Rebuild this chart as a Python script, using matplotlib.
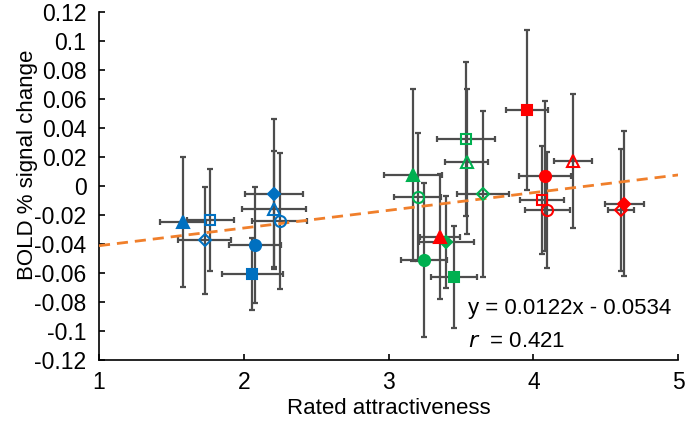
import numpy as np
from matplotlib import pyplot as plt

plt.rcParams['font.family'] = ['Liberation Sans', 'DejaVu Sans']

# points per colour group: x, y, x error, y error, marker, filled
blue_x = [1.58, 1.77, 1.73, 2.08, 2.06, 2.21, 2.21, 2.25]
blue_y = [-0.0248, -0.0234, -0.0376, -0.0407, -0.0607, -0.0055, -0.016, -0.0240]
blue_xerr = [0.16, 0.16, 0.185, 0.18, 0.21, 0.20, 0.22, 0.19]
blue_yerr = [0.045, 0.035, 0.037, 0.040, 0.025, 0.052, 0.040, 0.047]
blue_marker = ['^', 's', 'D', 'o', 's', 'D', '^', 'o']
blue_filled = [True, False, False, True, True, True, False, False]

green_x = [3.17, 3.20, 3.245, 3.40, 3.45, 3.535, 3.54, 3.65]
green_y = [0.0076, -0.0076, -0.051, -0.0386, -0.0628, 0.0324, 0.0166, -0.0055]
green_xerr = [0.20, 0.165, 0.16, 0.19, 0.16, 0.20, 0.15, 0.18]
green_yerr = [0.059, 0.044, 0.053, 0.032, 0.035, 0.053, 0.050, 0.057]
green_marker = ['^', 'o', 'o', 'D', 's', 's', '^', 'D']
green_filled = [True, False, True, True, True, False, False, False]

red_x = [3.355, 3.957, 4.08, 4.06, 4.095, 4.275, 4.627, 4.606]
red_y = [-0.035, 0.0524, 0.0069, -0.0097, -0.0166, 0.0172, -0.0124, -0.0166]
red_xerr = [0.14, 0.145, 0.18, 0.155, 0.155, 0.13, 0.135, 0.09]
red_yerr = [0.043, 0.055, 0.052, 0.037, 0.040, 0.046, 0.050, 0.042]
red_marker = ['^', 's', 'o', 's', 'o', '^', 'D', 'D']
red_filled = [True, True, True, False, False, False, True, False]

slope = 0.0122
intercept = -0.0534
r_value = 0.421

groups = [
    (blue_x, blue_y, blue_xerr, blue_yerr, blue_marker, blue_filled, '#0070C0'),
    (green_x, green_y, green_xerr, green_yerr, green_marker, green_filled, '#00B050'),
    (red_x, red_y, red_xerr, red_yerr, red_marker, red_filled, '#FF0000'),
]

fig = plt.figure(figsize=(6.85, 4.22), dpi=100)
ax = fig.add_axes([0.1445, 0.147, 0.8455, 0.8246])

# error bars first
for gx, gy, gxe, gye, gm, gf, col in groups:
    ax.errorbar(gx, gy, xerr=gxe, yerr=gye, fmt='none', ecolor='#4d4d4d',
                elinewidth=1.6, capsize=2.5, capthick=1.6, zorder=2)

# fit line
xs = np.array([1, 5])
ax.plot(xs, slope * xs + intercept, '--', color='#F07F2B', lw=2, dashes=(4, 2.5), zorder=3)

# markers on top
for gx, gy, gxe, gye, gm, gf, col in groups:
    for i in range(len(gx)):
        ms = 8
        if gm[i] == 'D':
            ms = 6.5
        if gm[i] == 's':
            ms = 7.5
        ax.plot(gx[i], gy[i], marker=gm[i], ms=ms, ls='none',
                mfc=col if gf[i] else 'none', mec=col, mew=1.5, zorder=4)

ax.set_xlim(1, 5)
ax.set_ylim(-0.12, 0.12)
ax.set_xticks([1, 2, 3, 4, 5])
yt = np.round(np.arange(-0.12, 0.1201, 0.02), 2)
ax.set_yticks(yt)
ax.set_yticklabels(['0' if abs(v) < 1e-9 else ('%g' % v) for v in yt])
ax.tick_params(direction='in', length=4, width=1.2, labelsize=16.5, colors='black')
ax.tick_params(axis='x', pad=8)
ax.tick_params(axis='y', pad=9)
ax.spines['top'].set_visible(False)
ax.spines['right'].set_visible(False)
ax.spines['left'].set_linewidth(1.2)
ax.spines['bottom'].set_linewidth(1.2)

ax.set_xlabel('Rated attractiveness', fontsize=16)
ax.set_ylabel('BOLD % signal change', fontsize=16)
ax.xaxis.set_label_coords(0.5, -0.11)
ax.yaxis.set_label_coords(-0.105, 0.56)

ax.text(3.55, -0.0845, 'y = %.4fx - %.4f' % (slope, -intercept), fontsize=16, va='center')
ax.text(3.55, -0.1075, r'$\it{r}$  = %.3f' % r_value, fontsize=16, va='center')

fig.savefig('out.png', dpi=100)
